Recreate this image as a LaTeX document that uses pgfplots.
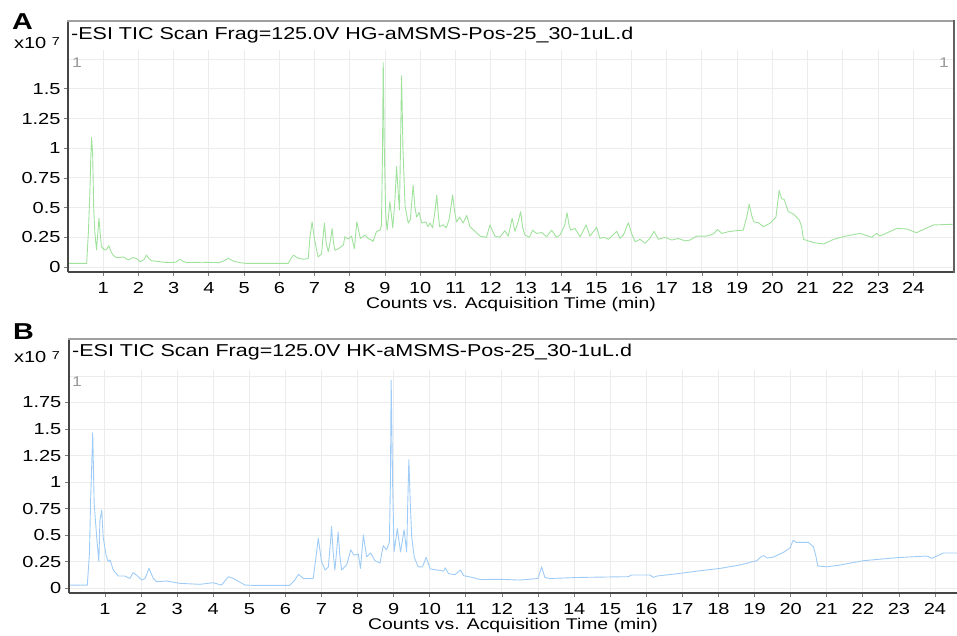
\documentclass[border=0pt]{standalone}
\usepackage{fontspec}
\setmainfont{Liberation Sans}[FakeStretch=1.25]
\usepackage{pgfplots}
\pgfplotsset{compat=1.18}
\definecolor{gA}{RGB}{160,226,156}
\definecolor{bB}{RGB}{158,204,246}
\definecolor{gridc}{RGB}{236,236,236}
\definecolor{framec}{RGB}{70,70,70}
\pgfplotsset{chrom/.style={
  scale only axis, anchor=south west,
  axis lines*=left, axis line style={-, framec, line width=1.8pt},
  xmin=0,
  xtick={1,2,3,4,5,6,7,8,9,10,11,12,13,14,15,16,17,18,19,20,21,22,23,24},
  xticklabels={1,2,3,4,5,6,7,8,9,10,11,12,13,14,15,16,17,18,19,20,21,22,23,24},
  grid=major, major grid style={gridc, line width=1pt},
  tick align=outside, major tick length=4pt,
  tick style={framec!70, line width=0.8pt},
  ticklabel style={font=\fontsize{16}{16}\selectfont},
  xticklabel style={yshift=-2.5pt},
  xlabel={Counts vs. Acquisition Time (min)},
  xlabel style={font=\fontsize{15.5}{15.5}\selectfont, inner sep=0pt, yshift=-0.5pt},
  every axis plot/.append style={line width=0.9pt, line join=round},
}}
\begin{document}
\begin{tikzpicture}
\useasboundingbox (0pt,0pt) rectangle (957pt,635pt);
% ---------------- Panel A ----------------
\begin{axis}[chrom, at={(68pt,363pt)}, width=886pt, height=222pt,
  xmax=25.155, ymin=-0.042, ymax=1.827,
  ytick={0,0.25,0.5,0.75,1,1.25,1.5},
  yticklabels={0,0.25,0.5,0.75,1,1.25,1.5},
  extra y ticks={1.75}, extra y tick labels={}, extra y tick style={grid=major, major tick length=0pt}]
\addplot[gA] coordinates {
(0,0.03) (0.53,0.03) (0.58,0.3) (0.62,0.62) (0.65,0.95) (0.67,1.09) (0.70,0.95) (0.73,0.5) (0.76,0.3) (0.81,0.143) (0.85,0.3) (0.88,0.41) (0.91,0.3) (0.95,0.17) (1.04,0.143) (1.10,0.15) (1.16,0.18) (1.22,0.13) (1.28,0.10) (1.37,0.08) (1.47,0.08) (1.57,0.085) (1.71,0.06) (1.85,0.08) (1.95,0.07) (2.04,0.045) (2.15,0.06) (2.23,0.10) (2.30,0.07) (2.37,0.053) (2.6,0.045) (2.8,0.037) (3.05,0.04) (3.18,0.065) (3.25,0.05) (3.37,0.037) (3.8,0.04) (4.3,0.037) (4.45,0.055) (4.55,0.073) (4.7,0.05) (4.88,0.037) (5.07,0.03) (6.25,0.03) (6.33,0.07) (6.4,0.10) (6.54,0.073) (6.7,0.065) (6.82,0.073) (6.87,0.25) (6.93,0.38) (6.99,0.25) (7.06,0.14) (7.1,0.085) (7.2,0.11) (7.24,0.25) (7.28,0.37) (7.33,0.2) (7.39,0.13) (7.45,0.22) (7.5,0.325) (7.54,0.2) (7.58,0.14) (7.68,0.155) (7.82,0.185) (7.86,0.255) (7.96,0.235) (8.05,0.26) (8.13,0.155) (8.2,0.38) (8.3,0.24) (8.44,0.27) (8.52,0.24) (8.6,0.23) (8.66,0.215) (8.76,0.30) (8.86,0.31) (8.90,0.35) (8.93,1.0) (8.95,1.72) (8.98,1.0) (9.02,0.45) (9.06,0.31) (9.14,0.55) (9.22,0.33) (9.28,0.55) (9.33,0.845) (9.38,0.6) (9.41,0.48) (9.44,1.0) (9.47,1.61) (9.51,1.0) (9.57,0.51) (9.66,0.37) (9.72,0.4) (9.76,0.55) (9.80,0.69) (9.85,0.5) (9.9,0.42) (9.97,0.46) (10.04,0.37) (10.16,0.38) (10.22,0.34) (10.28,0.37) (10.35,0.33) (10.41,0.45) (10.47,0.606) (10.51,0.45) (10.55,0.34) (10.65,0.355) (10.74,0.33) (10.82,0.4) (10.92,0.606) (10.97,0.48) (11.03,0.38) (11.12,0.42) (11.22,0.37) (11.32,0.435) (11.41,0.34) (11.52,0.31) (11.7,0.26) (11.88,0.25) (11.98,0.354) (12.12,0.26) (12.26,0.25) (12.4,0.305) (12.5,0.26) (12.61,0.41) (12.69,0.3) (12.78,0.38) (12.85,0.466) (12.91,0.33) (12.97,0.27) (13.1,0.25) (13.19,0.31) (13.3,0.283) (13.45,0.29) (13.59,0.255) (13.73,0.31) (13.87,0.25) (13.97,0.27) (14.1,0.35) (14.17,0.457) (14.22,0.36) (14.27,0.31) (14.39,0.325) (14.54,0.255) (14.71,0.354) (14.82,0.26) (15.01,0.334) (15.1,0.241) (15.22,0.25) (15.34,0.233) (15.58,0.3) (15.67,0.241) (15.77,0.27) (15.91,0.373) (16.0,0.283) (16.1,0.213) (16.24,0.233) (16.38,0.2) (16.52,0.241) (16.64,0.3) (16.76,0.233) (16.95,0.25) (17.14,0.227) (17.33,0.24) (17.52,0.22) (17.66,0.227) (17.85,0.26) (18.13,0.26) (18.32,0.277) (18.44,0.316) (18.56,0.283) (18.75,0.297) (18.94,0.305) (19.17,0.31) (19.27,0.42) (19.34,0.53) (19.41,0.435) (19.47,0.38) (19.6,0.373) (19.74,0.34) (19.93,0.368) (20.1,0.42) (20.19,0.645) (20.26,0.575) (20.33,0.57) (20.45,0.466) (20.6,0.446) (20.76,0.396) (20.83,0.34) (20.88,0.233) (21.17,0.205) (21.45,0.194) (21.74,0.233) (22.07,0.26) (22.49,0.283) (22.82,0.25) (22.96,0.283) (23.05,0.26) (23.53,0.325) (23.81,0.32) (24.09,0.289) (24.57,0.354) (25.13,0.36)
};
\end{axis}
% frame of panel A
\draw[framec, line width=1.8pt] (68pt,363pt) -- (68pt,614pt);
\draw[gray!75, line width=1.2pt] (67pt,614pt) -- (954pt,614pt);
\draw[framec!85, line width=1.6pt] (954pt,614.6pt) -- (954pt,362.1pt);
\node[anchor=west, font=\fontsize{17.2}{17.2}\selectfont, inner sep=0pt] at (71pt,600pt) {-ESI TIC Scan Frag=125.0V HG-aMSMS-Pos-25\_30-1uL.d};
\node[anchor=east, font=\fontsize{16}{16}\selectfont, inner sep=0pt] at (60pt,592pt) {x10 \raisebox{0.35ex}{\fontsize{11.5}{11.5}\selectfont 7}};
\node[anchor=west, font=\bfseries\fontsize{23}{23}\selectfont, inner sep=0pt] at (12pt,613pt) {A};
\node[text=gray!80, font=\fontsize{14}{14}\selectfont] at (77pt,572pt) {1};
\node[text=gray!80, font=\fontsize{14}{14}\selectfont] at (944pt,572pt) {1};
% ---------------- Panel B ----------------
\begin{axis}[chrom, at={(68.9pt,42pt)}, width=888.1pt, height=223pt,
  xmax=24.61, ymin=-0.047, ymax=2.057,
  ytick={0,0.25,0.5,0.75,1,1.25,1.5,1.75},
  yticklabels={0,0.25,0.5,0.75,1,1.25,1.5,1.75},
  extra y ticks={2}, extra y tick labels={}, extra y tick style={grid=major, major tick length=0pt}]
\addplot[bB] coordinates {
(0,0.028) (0.51,0.028) (0.57,0.33) (0.6,0.8) (0.66,1.465) (0.70,0.8) (0.77,0.48) (0.83,0.25) (0.86,0.64) (0.91,0.735) (0.95,0.48) (1.03,0.31) (1.09,0.25) (1.14,0.265) (1.23,0.17) (1.37,0.113) (1.55,0.113) (1.69,0.09) (1.78,0.145) (1.88,0.12) (2.02,0.075) (2.11,0.09) (2.22,0.185) (2.34,0.09) (2.43,0.06) (2.71,0.066) (3.08,0.044) (3.63,0.035) (4.0,0.05) (4.23,0.028) (4.42,0.107) (4.56,0.09) (4.88,0.028) (5.11,0.025) (6.12,0.025) (6.26,0.075) (6.36,0.129) (6.5,0.09) (6.77,0.09) (6.85,0.3) (6.91,0.47) (7.0,0.25) (7.1,0.17) (7.19,0.2) (7.24,0.4) (7.28,0.58) (7.32,0.35) (7.37,0.17) (7.42,0.35) (7.46,0.53) (7.51,0.3) (7.56,0.17) (7.7,0.22) (7.81,0.36) (7.9,0.31) (8.02,0.32) (8.08,0.185) (8.16,0.5) (8.25,0.295) (8.36,0.33) (8.48,0.26) (8.62,0.235) (8.71,0.4) (8.8,0.36) (8.88,0.43) (8.91,1.0) (8.93,1.96) (8.97,1.0) (9.01,0.34) (9.10,0.56) (9.19,0.34) (9.29,0.55) (9.36,0.34) (9.39,0.8) (9.42,1.21) (9.46,0.8) (9.5,0.48) (9.57,0.29) (9.68,0.2) (9.8,0.2) (9.9,0.29) (10.01,0.18) (10.2,0.17) (10.38,0.16) (10.43,0.19) (10.52,0.136) (10.7,0.126) (10.85,0.17) (10.94,0.116) (11.13,0.104) (11.4,0.08) (11.95,0.082) (12.5,0.075) (13.0,0.09) (13.1,0.2) (13.19,0.1) (13.33,0.09) (14.16,0.1) (15.5,0.107) (15.59,0.123) (16.1,0.123) (16.2,0.1) (16.29,0.113) (16.93,0.138) (17.49,0.163) (18.04,0.185) (18.59,0.217) (19.06,0.258) (19.2,0.3) (19.26,0.305) (19.35,0.283) (19.52,0.292) (19.8,0.336) (19.98,0.377) (20.07,0.45) (20.16,0.43) (20.49,0.43) (20.63,0.39) (20.7,0.3) (20.75,0.208) (21.0,0.2) (21.37,0.217) (22.02,0.258) (22.94,0.286) (23.77,0.302) (23.91,0.28) (24.23,0.33) (24.61,0.33)
};
\end{axis}
% frame of panel B
\draw[framec, line width=1.8pt] (68.9pt,42pt) -- (68.9pt,296pt);
\draw[gray!75, line width=1.2pt] (68pt,296pt) -- (957pt,296pt);
\node[anchor=west, font=\fontsize{17.2}{17.2}\selectfont, inner sep=0pt] at (72pt,283pt) {-ESI TIC Scan Frag=125.0V HK-aMSMS-Pos-25\_30-1uL.d};
\node[anchor=east, font=\fontsize{16}{16}\selectfont, inner sep=0pt] at (60pt,278pt) {x10 \raisebox{0.35ex}{\fontsize{11.5}{11.5}\selectfont 7}};
\node[anchor=west, font=\bfseries\fontsize{23}{23}\selectfont, inner sep=0pt] at (13pt,303pt) {B};
\node[text=gray!80, font=\fontsize{14}{14}\selectfont] at (77pt,253pt) {1};
\end{tikzpicture}
\end{document}
